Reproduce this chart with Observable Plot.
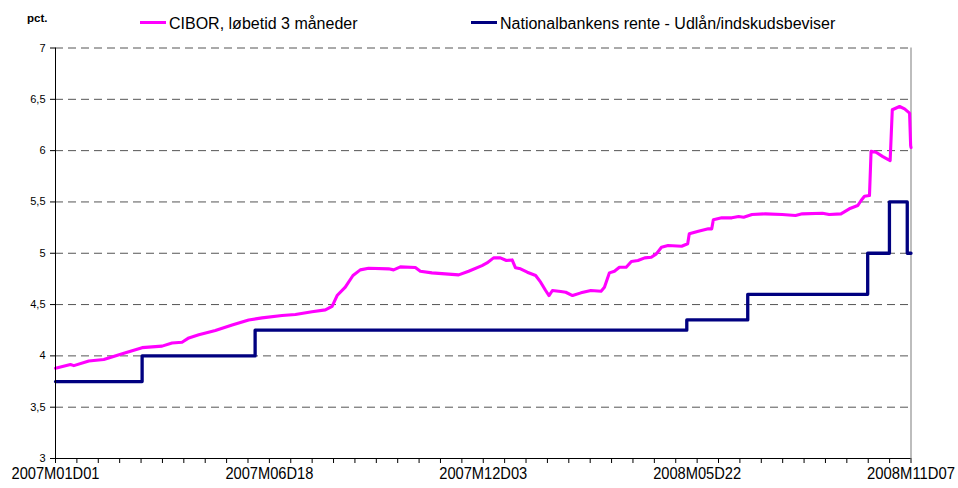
<!DOCTYPE html>
<html><head><meta charset="utf-8">
<script src="https://cdn.jsdelivr.net/npm/d3@7"></script>
<script src="https://cdn.jsdelivr.net/npm/@observablehq/plot@0.6"></script>
<style>
body{margin:0;background:#fff;font-family:"Liberation Sans",Arial,sans-serif;}
#wrap{position:relative;width:958px;height:488px;overflow:hidden;background:#fff}
#legend{position:relative;height:40px;}
#legend .t{position:absolute;white-space:nowrap;line-height:1;color:#000}
#legend .sw{position:absolute;height:3.6px}
#chart svg{display:block}
</style></head><body>
<div id="wrap">
  <div id="legend"></div>
  <div id="chart"></div>
</div>
<script>
// ---- data ----
const unitLabel = "pct.";
const seriesNames = ["CIBOR, løbetid 3 måneder", "Nationalbankens rente - Udlån/indskudsbeviser"];
const seriesColors = ["#ff00ff", "#000080"];

// x = trading-day position on the category axis (0 .. 480)
const xTickLabels = ["2007M01D01", "2007M06D18", "2007M12D03", "2008M05D22", "2008M11D07"];
const xTickIndex = [0, 120, 240, 360, 480];
const yTicks = [3, 3.5, 4, 4.5, 5, 5.5, 6, 6.5, 7];

const ciborDay = [0, 8.4, 10.3, 18.7, 27.1, 39.3, 48.6, 59.8, 65.4, 71, 74.8, 80.4, 89.7, 99.1, 108.4, 115.9, 127.1, 134.6, 143.9, 151.4, 155.2, 158, 162.6, 166.9, 171, 175.7, 186.9, 189.7, 193.5, 201.9, 204.7, 211.2, 224.3, 226.2, 231.8, 239.3, 242.1, 245.8, 249.6, 253, 256.2, 258.1, 260.9, 264.7, 269.4, 272.2, 275, 276.9, 278.8, 283.5, 286.3, 290.1, 294.8, 300.4, 306.1, 308, 310.8, 313.6, 316.4, 320.2, 323.1, 326.8, 330.6, 334.3, 337.1, 340, 343.7, 351.3, 354.7, 355.6, 360.7, 366.3, 368.2, 369.1, 373.8, 379.5, 383.3, 386.1, 390.8, 398.3, 407.7, 415.2, 419, 430.3, 434.1, 440.7, 445.4, 450.1, 452, 453.9, 456.7, 457.6, 460.4, 464.2, 468.3, 469.5, 473.6, 476.4, 479.2, 479.8, 480];
const ciborRate = [3.88, 3.915, 3.905, 3.95, 3.965, 4.03, 4.08, 4.095, 4.125, 4.133, 4.175, 4.205, 4.247, 4.30, 4.35, 4.37, 4.393, 4.403, 4.43, 4.448, 4.483, 4.588, 4.67, 4.783, 4.838, 4.854, 4.848, 4.838, 4.867, 4.861, 4.825, 4.809, 4.792, 4.789, 4.825, 4.88, 4.906, 4.955, 4.955, 4.929, 4.935, 4.858, 4.848, 4.815, 4.783, 4.718, 4.637, 4.588, 4.637, 4.627, 4.62, 4.588, 4.614, 4.637, 4.63, 4.669, 4.809, 4.825, 4.864, 4.864, 4.919, 4.929, 4.955, 4.961, 4.994, 5.058, 5.075, 5.068, 5.092, 5.189, 5.214, 5.238, 5.238, 5.326, 5.345, 5.345, 5.358, 5.351, 5.377, 5.384, 5.377, 5.368, 5.384, 5.39, 5.377, 5.384, 5.433, 5.465, 5.514, 5.556, 5.562, 5.994, 5.984, 5.942, 5.903, 6.398, 6.43, 6.407, 6.365, 6.05, 6.03];

const nbDay = [0, 48.6, 112, 354.2, 388.4, 455.7, 467.9, 477.9, 480];
const nbRate = [3.75, 4.0, 4.25, 4.35, 4.6, 5.0, 5.5, 5.0, 5.0];

// ---- build tables ----
const cibor = ciborDay.map((d, i) => ({day: d, rate: ciborRate[i]}));
const nb = nbDay.map((d, i) => ({day: d, rate: nbRate[i]}));

// ---- legend (above the SVG) ----
const legend = document.getElementById("legend");
legend.innerHTML = `
  <span class="t" style="left:27px;top:13px;font-size:11.5px;font-weight:bold">${unitLabel}</span>
  <span class="sw" style="left:140px;top:20.7px;width:26px;background:${seriesColors[0]}"></span>
  <span class="t" style="left:169px;top:16px;font-size:16px">${seriesNames[0]}</span>
  <span class="sw" style="left:470.5px;top:20.7px;width:26.5px;background:${seriesColors[1]}"></span>
  <span class="t" style="left:500px;top:16px;font-size:16px">${seriesNames[1]}</span>
`;

// ---- chart ----
const chart = Plot.plot({
  width: 958,
  height: 448,
  marginTop: 7.5,
  marginBottom: 30,
  marginLeft: 55,
  marginRight: 47.5,
  style: {fontFamily: "Liberation Sans, Arial, sans-serif", background: "#fff", overflow: "visible", color: "#000"},
  x: {type: "linear", domain: [0, 480]},
  y: {domain: [3, 7]},
  marks: [
    Plot.ruleY(yTicks.filter(d => d > 3), {stroke: "#555", strokeWidth: 1, strokeDasharray: "8,5"}),
    Plot.ruleX([480], {stroke: "#bdbdbd", strokeWidth: 2}),
    Plot.line(nb, {x: "day", y: "rate", curve: "step-after", stroke: seriesColors[1], strokeWidth: 3.3}),
    Plot.line(cibor, {x: "day", y: "rate", stroke: seriesColors[0], strokeWidth: 3.1, strokeLinejoin: "round", strokeLinecap: "round"}),
    Plot.ruleY([3], {stroke: "#000", strokeWidth: 1}),
    Plot.ruleX([0], {stroke: "#000", strokeWidth: 1}),
    Plot.axisY({ticks: yTicks, tickSize: 5, tickPadding: 5, fontSize: 11, label: null,
      tickFormat: d => String(d).replace(".", ",")}),
    Plot.axisX({ticks: d3.range(0, 481, 12), tickSize: 5, tickPadding: 3, fontSize: 17, label: null,
      tickFormat: d => { const k = xTickIndex.indexOf(d); return k >= 0 ? xTickLabels[k] : ""; }})
  ]
});
document.getElementById("chart").appendChild(chart);

// narrow, tall tick labels as in the reference (horizontal squeeze)
d3.select(chart).selectAll('g[aria-label="x-axis tick label"] text').each(function() {
  if (this.textContent.length === 0) return;
  const len = this.getComputedTextLength();
  const s = len > 0 ? 88 / len : 1;
  const tr = this.getAttribute("transform");
  if (tr) {
    this.setAttribute("transform", tr + ` scale(${s},1)`);
  } else {
    this.setAttribute("textLength", 88);
    this.setAttribute("lengthAdjust", "spacingAndGlyphs");
  }
});
</script>
</body></html>
